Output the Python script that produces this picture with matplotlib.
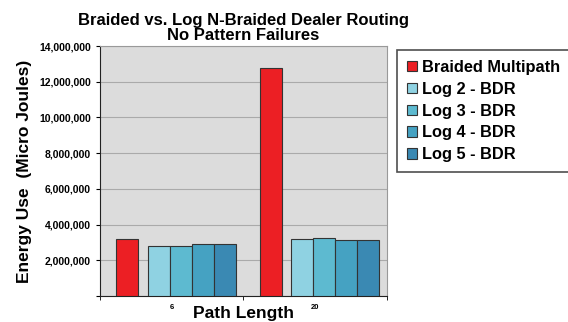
import matplotlib.pyplot as plt
import numpy as np

plt.rcParams['font.family'] = ['Liberation Sans', 'DejaVu Sans']
plt.rcParams['font.weight'] = 'bold'

path_lengths = ['6', '20']
series_names = ['Braided Multipath', 'Log 2 - BDR', 'Log 3 - BDR', 'Log 4 - BDR', 'Log 5 - BDR']
braided = [3200000, 12750000]
log2 = [2780000, 3180000]
log3 = [2790000, 3220000]
log4 = [2900000, 3150000]
log5 = [2930000, 3150000]
colors = ['#ec1f24', '#8fd2e2', '#5dbad0', '#45a2c2', '#3a89b3']

fig = plt.figure(figsize=(5.68, 3.22), dpi=100)
ax = fig.add_axes([0.176, 0.081, 0.505, 0.776])
ax.set_facecolor('#dcdcdc')

x = np.arange(len(path_lengths))
w = 0.154
offsets = [-0.31, -0.09, -0.09 + w, -0.09 + 2 * w, -0.09 + 3 * w]
for vals, off, c, name in zip([braided, log2, log3, log4, log5], offsets, colors, series_names):
    ax.bar(x + off, vals, w, color=c, edgecolor='#333333', linewidth=0.8, label=name, zorder=3)

ax.set_xlim(-0.5, 1.5)
ax.set_ylim(0, 14000000)
ax.set_yticks(np.arange(0, 14000001, 2000000))
ax.set_yticklabels([''] + ['{:,}'.format(v) for v in range(2000000, 14000001, 2000000)], fontsize=7.5, fontweight='bold')
ax.yaxis.grid(True, color='#aaaaaa', linewidth=0.8, zorder=0)
ax.set_xticks(x)
ax.set_xticklabels(path_lengths, fontsize=5.5, fontweight='bold')
ax.tick_params(axis='x', length=0, pad=6)
ax.set_xticks([-0.5, 0.5, 1.5], minor=True)
ax.tick_params(axis='x', which='minor', length=3, direction='out')
ax.tick_params(axis='y', length=3, direction='out')

for s in ['top', 'right']:
    ax.spines[s].set_color('#999999')
ax.spines['left'].set_color('#222222')
ax.spines['bottom'].set_color('#222222')

ax.set_ylabel('Energy Use  (Micro Joules)', fontsize=12.5, fontweight='bold', labelpad=5)
ax.set_xlabel('Path Length', fontsize=12.5, fontweight='bold', labelpad=-4)
ax.set_title('Braided vs. Log N-Braided Dealer Routing\nNo Pattern Failures', fontsize=12, fontweight='bold', linespacing=1.0, pad=4)

leg = fig.legend(loc='upper left', bbox_to_anchor=(0.699, 0.845), borderaxespad=0, frameon=True, fancybox=False,
                 prop={'size': 11.8, 'weight': 'bold'}, handlelength=0.6, handleheight=0.6,
                 handletextpad=0.35, labelspacing=0.42, borderpad=0.6)
leg.get_frame().set_edgecolor('#222222')
leg.get_frame().set_linewidth(1.2)

fig.savefig('out.png', dpi=100)
